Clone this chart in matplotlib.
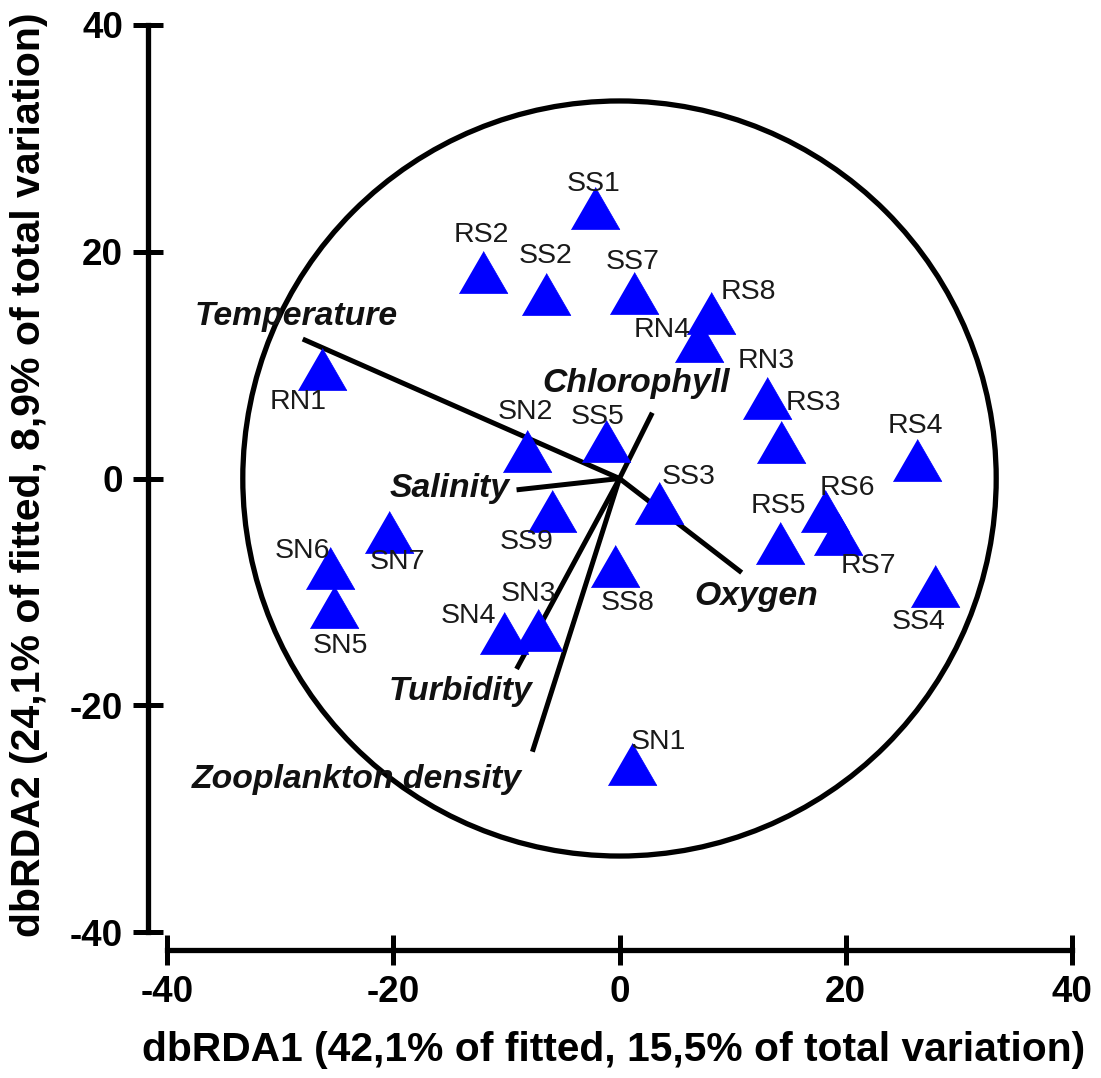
import numpy as np
import matplotlib
matplotlib.use("Agg")
import matplotlib.pyplot as plt
from matplotlib.patches import Circle

plt.rcParams['axes.unicode_minus'] = False

# site scores on the first two dbRDA axes
sites = ["RN1", "RS2", "SS1", "SS2", "SS7", "RS8", "RN4", "RN3", "RS3", "RS4",
         "SN2", "SS5", "SS3", "SS9", "RS5", "RS6", "RS7", "SS8", "SS4", "SN3",
         "SN4", "SN7", "SN6", "SN5", "SN1"]
db1 = [-26.3, -12.1, -2.2, -6.5, 1.3, 8.1, 7.0, 13.0, 14.3, 26.3,
       -8.2, -1.2, 3.5, -6.0, 14.2, 18.2, 19.3, -0.4, 27.9, -7.2,
       -10.2, -20.4, -25.6, -25.2, 1.1]
db2 = [9.7, 18.2, 23.9, 16.3, 16.4, 14.6, 12.1, 7.1, 3.2, 1.6,
       2.4, 3.3, -2.2, -2.9, -5.7, -2.9, -4.9, -7.7, -9.5, -13.4,
       -13.6, -4.7, -7.9, -11.3, -25.2]

# environmental vectors (end points)
env_names = ["Temperature", "Chlorophyll", "Salinity", "Oxygen", "Turbidity",
             "Zooplankton density"]
env_x = [-28.0, 2.9, -9.1, 10.8, -9.1, -7.7]
env_y = [12.3, 5.8, -1.0, -8.3, -16.8, -24.1]

circle_r = 33.3

# label placement (offsets in points from marker)
site_offsets = [(-17, 24), (-1, -27), (-1, -17), (0, -27), (-1, -22), (27, -15),
                (-26, -8), (0, -27), (23, -28), (-1, -25), (-1, -28), (-6, -17),
                (21, -19), (-18, 22), (-1, -27), (16, -17), (22, 23), (9, 27),
                (-12, 26), (-7, -26), (-26, -12), (6, 22), (-20, -12), (4, 28),
                (19, -16)]
env_label_pos = [(-28.6, 13.5), (1.5, 7.6), (-15.0, -1.6), (12.1, -11.2),
                 (-14.1, -19.5), (-23.2, -27.3)]

fig = plt.figure(figsize=(11.01, 10.78), dpi=100)
ax = fig.add_axes([167/1101, 1-932/1078, 905/1101, 907/1078])

tri = [(-1, -0.866), (1, -0.866), (0, 0.866)]
ax.plot(db1, db2, linestyle='none', marker=tri, markersize=35, color='#0000ff',
        markeredgecolor='#0000ff', markeredgewidth=0.5, zorder=3)

for name, x, y, off in zip(sites, db1, db2, site_offsets):
    ax.annotate(name, (x, y), xytext=(off[0], -off[1]), textcoords='offset points',
                ha='center', va='center', fontsize=20.5, color='#1a1a1a',
                family='Liberation Sans', zorder=4)

for ex, ey in zip(env_x, env_y):
    ax.plot([0, ex], [0, ey], color='black', linewidth=3.6, solid_capstyle='butt', zorder=2)

for name, pos in zip(env_names, env_label_pos):
    ax.text(pos[0], pos[1], name, ha='center', va='baseline', fontsize=24.3,
            fontweight='bold', fontstyle='italic', family='Liberation Sans', color='#111111',
            zorder=5)

ax.add_patch(Circle((0, 0), circle_r, fill=False, edgecolor='black', linewidth=3.8, zorder=1))

ax.set_xlim(-40, 40)
ax.set_ylim(-40, 40)
ax.set_xticks([-40, -20, 0, 20, 40])
ax.set_yticks([-40, -20, 0, 20, 40])

for s in ['top', 'right']:
    ax.spines[s].set_visible(False)
ax.spines['left'].set_position(('outward', 13.7))
ax.spines['bottom'].set_position(('outward', 13))
for s in ['left', 'bottom']:
    ax.spines[s].set_linewidth(3.8)
ax.tick_params(direction='inout', length=22, width=3.6, pad=7)
for lab in ax.get_xticklabels() + ax.get_yticklabels():
    lab.set_fontsize(26.5)
    lab.set_fontweight('bold')
    lab.set_family('Liberation Sans')

ax.set_xlabel('dbRDA1 (42,1% of fitted, 15,5% of total variation)', fontsize=29.3,
              fontweight='bold', family='Liberation Sans', va='center')
ax.xaxis.set_label_coords((614-167)/905, (932-1050)/907)
ax.set_ylabel('dbRDA2 (24,1% of fitted, 8,9% of total variation)', fontsize=29.5,
              fontweight='bold', family='Liberation Sans', va='center')
ax.yaxis.set_label_coords((29-167)/905, (932-475)/907)

fig.savefig('out.png', dpi=100)
